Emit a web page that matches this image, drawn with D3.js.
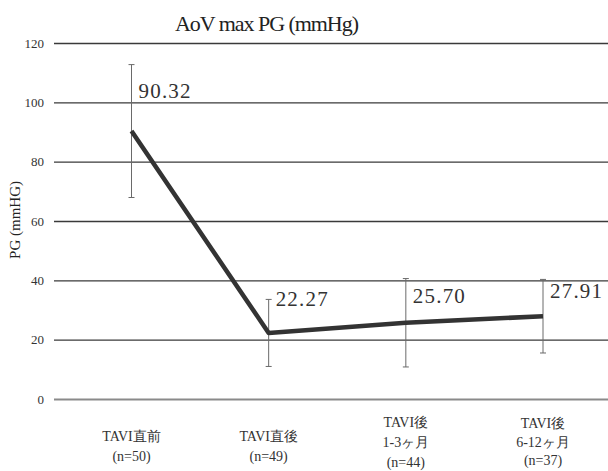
<!DOCTYPE html>
<html><head><meta charset="utf-8">
<script src="https://cdn.jsdelivr.net/npm/d3@7"></script>
<style>body{margin:0;background:#fff}svg{display:block}
.s{font-family:"Liberation Serif","DejaVu Serif",serif}</style>
</head><body>
<script>
const categories = ["TAVI直前|(n=50)", "TAVI直後|(n=49)", "TAVI後|1-3ヶ月|(n=44)", "TAVI後|6-12ヶ月|(n=37)"];
const means = [90.32, 22.27, 25.70, 27.91];
const sds = [22.4, 11.3, 14.9, 12.4];
const yTicks = [0, 20, 40, 60, 80, 100, 120];
const title = "AoV max PG (mmHg)";
const yTitle = "PG (mmHG)";

const W = 608, H = 471;
const svg = d3.select("body").append("svg").attr("width", W).attr("height", H);

const x = d3.scalePoint().domain(categories).range([131.5, 543]);
const y = d3.scaleLinear().domain([0, 120]).range([399, 43]);

// gridlines
const yAxis = d3.axisLeft(y).tickValues(yTicks).tickSize(-(W - 54)).tickFormat(d3.format("d"));
const ga = svg.append("g").attr("transform", "translate(54,0)").call(yAxis);
ga.attr("font-family", null).attr("font-size", null);
ga.select(".domain").remove();
ga.selectAll(".tick line").attr("stroke", d => d === 0 ? "#8a8a8a" : "#3a3a3a")
  .attr("stroke-width", d => d === 0 ? 2 : 1.3);
ga.selectAll(".tick text").attr("x", -10).attr("class", "s").attr("font-size", 13).attr("fill", "#333");

// title
svg.append("text").attr("class", "s").attr("x", 267).attr("y", 31).attr("text-anchor", "middle")
  .attr("font-size", 22).attr("fill", "#222")
  .attr("textLength", 184).attr("lengthAdjust", "spacing").text(title);

// y title
svg.append("text").attr("class", "s").attr("transform", "translate(20,220) rotate(-90)").attr("text-anchor", "middle")
  .attr("font-size", 15).attr("fill", "#222").text(yTitle);

// error bars
const eb = svg.append("g").attr("stroke", "#6a6a6a").attr("stroke-width", 1);
categories.forEach((c, i) => {
  const cx = x(c), t = y(means[i] + sds[i]), b = y(means[i] - sds[i]);
  eb.append("line").attr("x1", cx).attr("x2", cx).attr("y1", t).attr("y2", b);
  eb.append("line").attr("x1", cx - 3).attr("x2", cx + 3).attr("y1", t).attr("y2", t);
  eb.append("line").attr("x1", cx - 3).attr("x2", cx + 3).attr("y1", b).attr("y2", b);
});

// line
const line = d3.line().x((d, i) => x(categories[i])).y(d => y(d));
svg.append("path").datum(means).attr("d", line).attr("fill", "none")
  .attr("stroke", "#333").attr("stroke-width", 4.5).attr("stroke-linejoin", "round");

// data labels
const labelDy = [-33, -27, -20, -18];
svg.append("g").selectAll("text").data(means).join("text").attr("class", "s")
  .attr("x", (d, i) => x(categories[i]) + 7)
  .attr("y", (d, i) => y(d) + labelDy[i])
  .attr("font-size", 21).attr("fill", "#333")
  .attr("textLength", 52).attr("lengthAdjust", "spacing")
  .text(d => d.toFixed(2));

// category labels
const cg = svg.append("g");
categories.forEach((c, i) => {
  const lines = c.split("|");
  const y0 = lines.length === 2 ? 441 : (i === 2 ? 427 : 428);
  const lh = lines.length === 2 ? 20 : (i === 2 ? 20 : 18.5);
  const t = cg.append("text").attr("class", "s").attr("text-anchor", "middle")
    .attr("font-size", 14).attr("fill", "#333");
  lines.forEach((l, j) => t.append("tspan").attr("x", x(c)).attr("y", y0 + j * lh).text(l));
});
</script>
</body></html>
